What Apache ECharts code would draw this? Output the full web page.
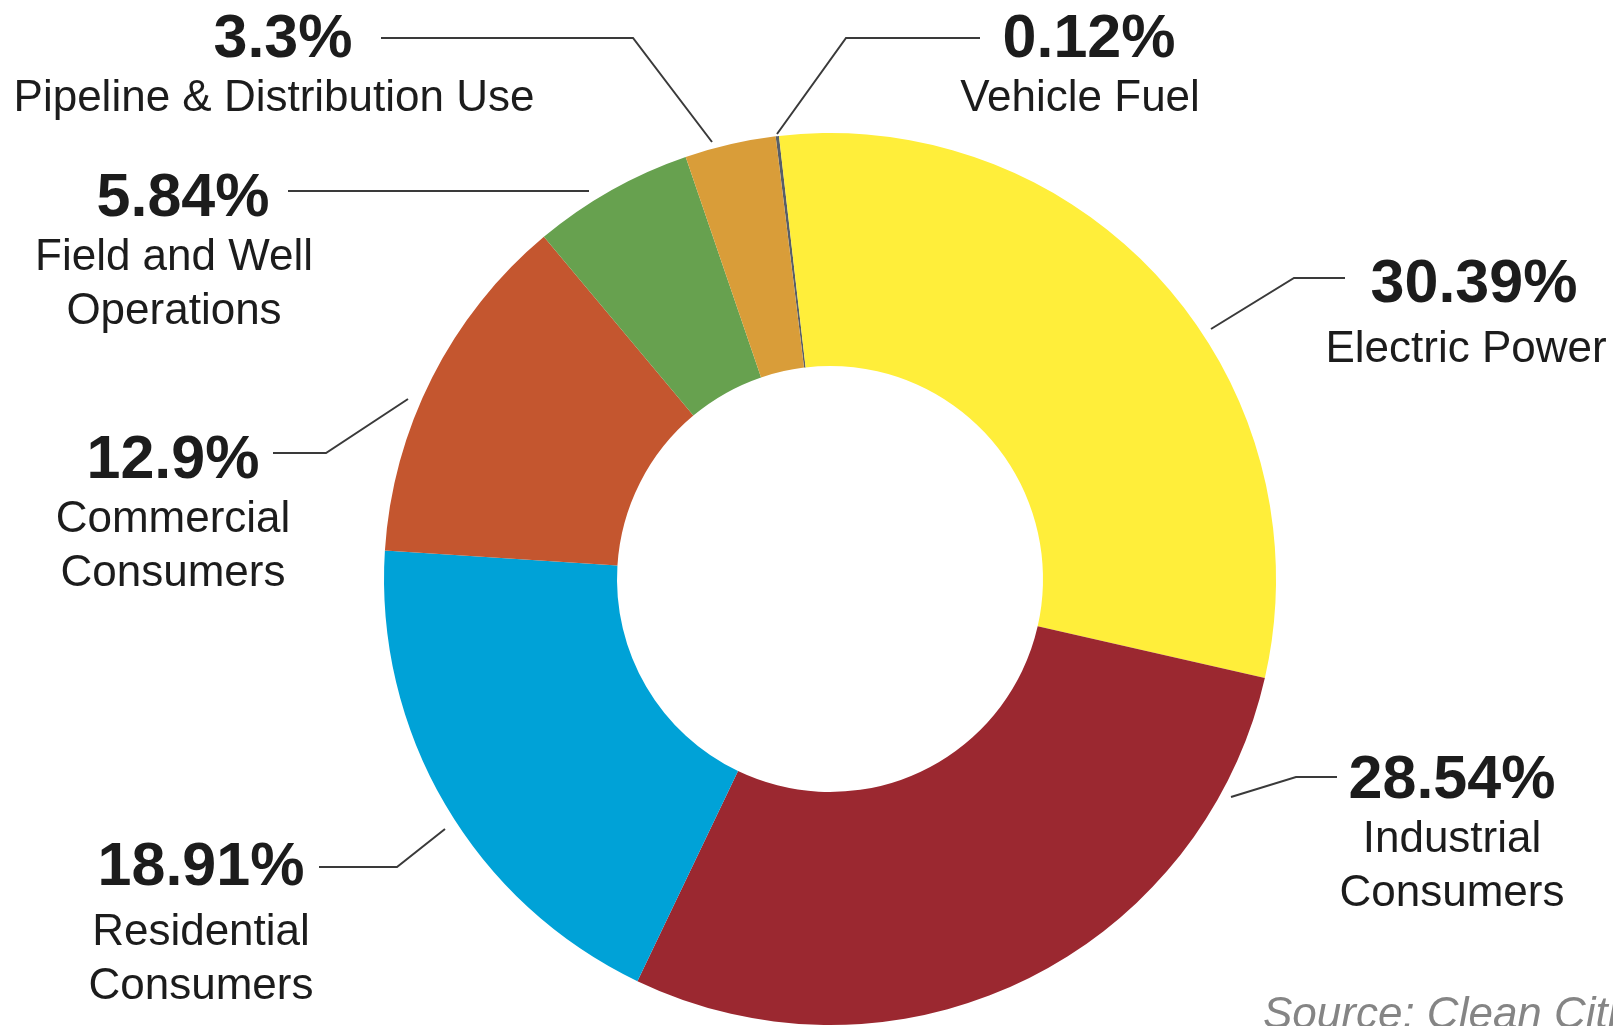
<!DOCTYPE html>
<html>
<head>
<meta charset="utf-8">
<style>
html,body{margin:0;padding:0;background:#ffffff;}
#c{width:1613px;height:1026px;}
</style>
<script src="https://cdn.jsdelivr.net/npm/echarts@6/dist/echarts.min.js"></script>
</head>
<body>
<div id="c"></div>
<script>
// ---- data ----
const categories = [
  'Vehicle Fuel',
  'Electric Power',
  'Industrial\nConsumers',
  'Residential\nConsumers',
  'Commercial\nConsumers',
  'Field and Well\nOperations',
  'Pipeline & Distribution Use'
];
const values = [0.12, 30.39, 28.54, 18.91, 12.9, 5.84, 3.3];
const colors = ['#575e68', '#ffee3a', '#9b2830', '#00a2d7', '#c4562f', '#67a14f', '#d99d39'];
const sourceText = 'Source: Clean Cities';

// ---- label annotation layout (px) ----
const labelPos = [
  {x: 1080, y: 8,   lp: 64, pad: 18, line: [[777, 134], [846, 38], [980, 38]]},
  {x: 1466, y: 247, lp: 76, pad: 16, line: [[1211, 329], [1294, 278], [1345, 278]]},
  {x: 1452, y: 749, lp: 64, pad: 0,  line: [[1231, 797], [1296, 777], [1337, 777]]},
  {x: 201,  y: 830, lp: 76, pad: 0,  line: [[445, 829], [397, 867], [319, 867]]},
  {x: 173,  y: 429, lp: 64, pad: 0,  line: [[408, 399], [326, 453], [273, 453]]},
  {x: 174,  y: 167, lp: 64, pad: 18, line: [[589, 191], [440, 191], [288, 191]]},
  {x: 274,  y: 8,   lp: 64, pad: 18, line: [[712, 142], [633, 38], [381, 38]]}
];

const FONT = '"Liberation Sans", Arial, Helvetica, sans-serif';
const TEXT_COLOR = '#1c1c1c';
const chart = echarts.init(document.getElementById('c'), null, {renderer: 'canvas'});

function richFor(i) {
  const L = labelPos[i];
  return {
    p: {fontSize: 61, fontWeight: 'bold', lineHeight: L.lp, color: TEXT_COLOR, fontFamily: FONT, padding: [0, 0, 0, L.pad]},
    n: {fontSize: 44, lineHeight: 54, color: TEXT_COLOR, fontFamily: FONT}
  };
}

chart.setOption({
  backgroundColor: '#ffffff',
  animation: false,
  series: [{
    type: 'pie',
    center: [830, 579],
    radius: [213, 446],
    startAngle: 97,
    clockwise: true,
    avoidLabelOverlap: false,
    silent: true,
    data: categories.map((n, i) => ({
      name: n,
      value: values[i],
      itemStyle: {color: colors[i]},
      label: {rich: richFor(i)}
    })),
    label: {
      show: true,
      position: 'outside',
      formatter: function (p) {
        const lines = p.name.split('\n').map(s => '{n|' + s + '}').join('\n');
        return '{p|' + p.value + '%}\n' + lines;
      },
      rich: richFor(0)
    },
    labelLine: {show: true, lineStyle: {color: '#3a3a3a', width: 2}},
    labelLayout: function (params) {
      const L = labelPos[params.dataIndex];
      return {x: L.x, y: L.y, align: 'center', verticalAlign: 'top', labelLinePoints: L.line};
    },
    emphasis: {disabled: true}
  }],
  graphic: [{
    type: 'text',
    left: 1263,
    top: 994,
    style: {text: sourceText, font: 'italic 44px ' + FONT, fill: '#858585'}
  }]
});
</script>
</body>
</html>
